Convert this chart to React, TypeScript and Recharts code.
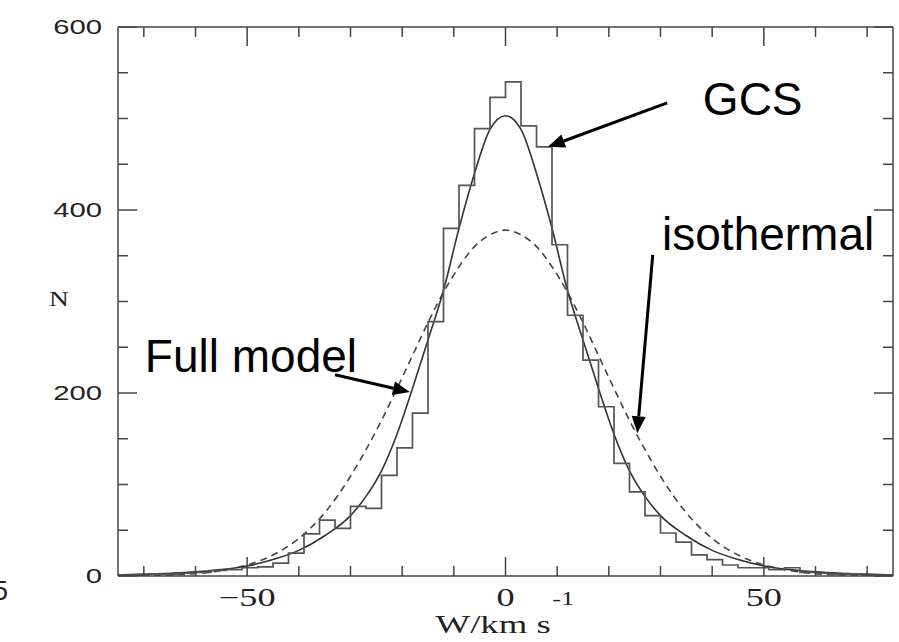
import React from 'react'
import {
    ComposedChart,
    Line,
    XAxis,
    YAxis,
    ReferenceLine,
    ReferenceDot,
} from 'recharts'

// histogram bin edges (W, km/s) and star counts per bin
const HIST_EDGES = [
    -75, -72, -69, -66, -63, -60, -57, -54, -51, -48, -45, -42, -39, -36, -33, -30, -27,
    -24, -21, -18, -15, -12, -9, -6, -3, 0, 3, 6, 9, 12, 15, 18, 21, 24, 27, 30, 33, 36,
    39, 42, 45, 48, 51, 54, 57, 60, 63, 66, 69, 72, 75,
]
const HIST_COUNTS = [
    1, 1, 2, 2, 3, 4, 6, 7, 9, 10, 14, 25, 46, 61, 52, 76, 74, 110, 140, 178, 278, 380,
    427, 489, 523, 540, 492, 469, 362, 285, 236, 185, 123, 92, 66, 47, 37, 23, 18, 12, 9,
    9, 7, 9, 4, 3, 2, 2, 1, 1,
]

// model curves
const CURVE_W = [
    -75, -70, -65, -60, -55, -50, -45, -40, -35, -30, -27, -24, -21, -18, -15, -12, -9, -6,
    -3, 0, 3, 6, 9, 12, 15, 18, 21, 24, 27, 30, 35, 40, 45, 50, 55, 60, 65, 70, 75,
]
const FULL_MODEL = [
    1, 2, 3, 4.5, 7, 11, 18, 28, 44, 66, 87, 115, 155, 205, 258, 312, 380, 440, 488, 503,
    488, 440, 380, 312, 258, 205, 155, 115, 87, 66, 44, 28, 18, 11, 7, 4.5, 3, 2, 1,
]
const ISOTHERMAL = [
    0.1, 0.4, 1, 2.6, 6, 12, 23, 41, 69, 109, 138, 170, 205, 241, 277, 310, 338, 360, 373,
    378, 373, 360, 338, 310, 277, 241, 205, 170, 138, 109, 69, 41, 23, 12, 6, 2.6, 1, 0.4,
    0.1,
]

const X_TICKS = [-70, -60, -50, -40, -30, -20, -10, 0, 10, 20, 30, 40, 50, 60, 70]
const X_MAJOR = [-50, 0, 50]
const Y_TICKS = [0, 50, 100, 150, 200, 250, 300, 350, 400, 450, 500, 550, 600]
const Y_MAJOR = [0, 200, 400, 600]

const AXIS = '#444'
const SERIF = '"Liberation Serif", "Times New Roman", serif'
const SANS = '"Liberation Sans", Arial, sans-serif'

const histData = HIST_EDGES.map((x, i) => ({
    x,
    n: HIST_COUNTS[Math.min(i, HIST_COUNTS.length - 1)],
}))
const fullData = CURVE_W.map((x, i) => ({ x, n: FULL_MODEL[i] }))
const isoData = CURVE_W.map((x, i) => ({ x, n: ISOTHERMAL[i] }))

const fmt = (v: number) => (v < 0 ? `\u2212${Math.abs(v)}` : `${v}`)

function BottomTick({ x, y, payload }: any) {
    const major = X_MAJOR.includes(payload.value)
    return (
        <g>
            <line x1={x} y1={y} x2={x} y2={y - (major ? 19 : 10)} stroke={AXIS} strokeWidth={1.5} />
            {major && (
                <text
                    transform={`translate(${x},${y + 30}) scale(1.45,1)`}
                    textAnchor="middle"
                    fontFamily={SERIF}
                    fontSize={25}
                    fill="#222"
                >
                    {fmt(payload.value)}
                </text>
            )}
        </g>
    )
}

function TopTick({ x, y, payload }: any) {
    const major = X_MAJOR.includes(payload.value)
    return <line x1={x} y1={y} x2={x} y2={y + (major ? 19 : 10)} stroke={AXIS} strokeWidth={1.5} />
}

function LeftTick({ x, y, payload }: any) {
    const major = Y_MAJOR.includes(payload.value)
    return (
        <g>
            <line x1={x} y1={y} x2={x + (major ? 19 : 10)} y2={y} stroke={AXIS} strokeWidth={1.5} />
            {major && (
                <text
                    transform={`translate(${x - 16},${y + 7}) scale(1.5,1)`}
                    textAnchor="end"
                    fontFamily={SANS}
                    fontSize={19.5}
                    fill="#222"
                >
                    {payload.value}
                </text>
            )}
        </g>
    )
}

function RightTick({ x, y, payload }: any) {
    const major = Y_MAJOR.includes(payload.value)
    return <line x1={x} y1={y} x2={x - (major ? 19 : 10)} y2={y} stroke={AXIS} strokeWidth={1.5} />
}

function XLabel({ viewBox }: any) {
    const cx = viewBox.x + viewBox.width / 2
    const by = viewBox.y + 57
    return (
        <text transform={`translate(${cx - 70},${by}) scale(1.47,1)`} fontFamily={SERIF} fontSize={25} fill="#222">
            W/km s
            <tspan dy={-28} dx={1} fontSize={18}>-1</tspan>
        </text>
    )
}

function YLabel() {
    return (
        <text transform="translate(59,306) scale(1.25,1)" textAnchor="middle" fontFamily={SERIF} fontSize={22} fill="#222">
            N
        </text>
    )
}

function Arrow({ x1, y1, x2, y2 }: any) {
    const dx = x2 - x1
    const dy = y2 - y1
    const len = Math.hypot(dx, dy)
    const ux = dx / len
    const uy = dy / len
    const hl = 17
    const hw = 7
    const bx = x2 - ux * hl
    const by = y2 - uy * hl
    return (
        <g>
            <line x1={x1} y1={y1} x2={bx} y2={by} stroke="#000" strokeWidth={3} />
            <polygon
                points={`${x2},${y2} ${bx - uy * hw},${by + ux * hw} ${bx + uy * hw},${by - ux * hw}`}
                fill="#000"
            />
        </g>
    )
}

const note = (text: string) => (p: any) => (
    <text x={p.cx} y={p.cy} fontFamily={SANS} fontSize={46} fill="#000">
        {text}
    </text>
)

export default function App() {
    return (
        <div style={{ position: 'absolute', left: 0, top: 0, width: 899, height: 642, background: '#fff' }}>
            <ComposedChart width={899} height={642} margin={{ top: 0, right: 0, left: 0, bottom: 0 }}>
                <XAxis
                    xAxisId="b"
                    type="number"
                    dataKey="x"
                    domain={[-75, 75]}
                    ticks={X_TICKS}
                    interval={0}
                    allowDataOverflow
                    height={66}
                    tickSize={0}
                    tickMargin={0}
                    tickLine={false}
                    tick={BottomTick}
                    axisLine={{ stroke: AXIS, strokeWidth: 1.5 }}
                    label={{ content: XLabel }}
                />
                <XAxis
                    xAxisId="t"
                    orientation="top"
                    type="number"
                    dataKey="x"
                    domain={[-75, 75]}
                    ticks={X_TICKS}
                    interval={0}
                    allowDataOverflow
                    height={27}
                    tickSize={0}
                    tickMargin={0}
                    tickLine={false}
                    tick={TopTick}
                    axisLine={{ stroke: AXIS, strokeWidth: 1.5 }}
                />
                <YAxis
                    yAxisId="l"
                    type="number"
                    domain={[0, 600]}
                    ticks={Y_TICKS}
                    interval={0}
                    allowDataOverflow
                    width={118}
                    tickSize={0}
                    tickMargin={0}
                    tickLine={false}
                    tick={LeftTick}
                    axisLine={{ stroke: AXIS, strokeWidth: 1.5 }}
                    label={{ content: YLabel }}
                />
                <YAxis
                    yAxisId="r"
                    orientation="right"
                    type="number"
                    domain={[0, 600]}
                    ticks={Y_TICKS}
                    interval={0}
                    allowDataOverflow
                    width={6}
                    tickSize={0}
                    tickMargin={0}
                    tickLine={false}
                    tick={RightTick}
                    axisLine={{ stroke: AXIS, strokeWidth: 1.5 }}
                />
                <Line
                    xAxisId="b"
                    yAxisId="l"
                    data={isoData}
                    dataKey="n"
                    type="monotone"
                    stroke="#444"
                    strokeWidth={1.6}
                    strokeDasharray="7 5"
                    dot={false}
                    isAnimationActive={false}
                />
                <Line
                    xAxisId="b"
                    yAxisId="l"
                    data={fullData}
                    dataKey="n"
                    type="monotone"
                    stroke="#333"
                    strokeWidth={1.6}
                    dot={false}
                    isAnimationActive={false}
                />
                <Line
                    xAxisId="b"
                    yAxisId="l"
                    data={histData}
                    dataKey="n"
                    type="stepAfter"
                    stroke="#555"
                    strokeWidth={1.7}
                    dot={false}
                    isAnimationActive={false}
                />
                <ReferenceLine
                    xAxisId="b"
                    yAxisId="l"
                    segment={[{ x: 31.3, y: 517 }, { x: 8.2, y: 469 }]}
                    ifOverflow="visible"
                    shape={Arrow}
                />
                <ReferenceLine
                    xAxisId="b"
                    yAxisId="l"
                    segment={[{ x: 28.5, y: 351 }, { x: 25.5, y: 156 }]}
                    ifOverflow="visible"
                    shape={Arrow}
                />
                <ReferenceLine
                    xAxisId="b"
                    yAxisId="l"
                    segment={[{ x: -33, y: 220 }, { x: -18.5, y: 201 }]}
                    ifOverflow="visible"
                    shape={Arrow}
                />
                <ReferenceDot xAxisId="b" yAxisId="l" x={38.2} y={504} r={0} ifOverflow="visible" shape={note('GCS')} />
                <ReferenceDot xAxisId="b" yAxisId="l" x={30.3} y={356} r={0} ifOverflow="visible" shape={note('isothermal')} />
                <ReferenceDot xAxisId="b" yAxisId="l" x={-69.8} y={223} r={0} ifOverflow="visible" shape={note('Full model')} />
            </ComposedChart>
            <div
                style={{
                    position: 'absolute',
                    left: -7,
                    top: 578,
                    fontFamily: SANS,
                    fontSize: 27,
                    lineHeight: 1,
                    color: '#222',
                }}
            >
                5
            </div>
        </div>
    )
}
